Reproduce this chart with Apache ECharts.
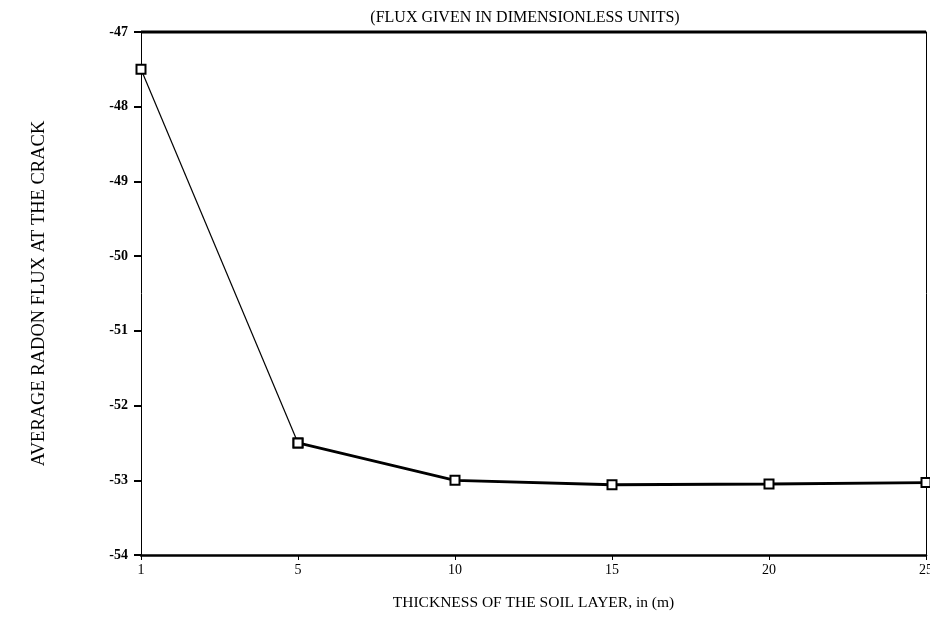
<!DOCTYPE html>
<html>
<head>
<meta charset="utf-8">
<script src="https://cdn.jsdelivr.net/npm/echarts@6/dist/echarts.min.js"></script>
<style>html,body{margin:0;padding:0;background:#fff}#c{width:930px;height:620px}</style>
</head>
<body>
<div id="c"></div>
<script>
const categories = ['1', '5', '10', '15', '20', '25'];
const fluxValues = [-47.5, -52.5, -53.0, -53.06, -53.05, -53.03];
const yTicks = [-54, -53, -52, -51, -50, -49, -48, -47];
const titleText = '(FLUX GIVEN IN DIMENSIONLESS UNITS)';
const xName = 'THICKNESS OF THE SOIL LAYER, in (m)';
const yName = 'AVERAGE RADON FLUX AT THE CRACK';

const thinPart = fluxValues.map((v, i) => i <= 1 ? v : null);
const thickPart = fluxValues.map((v, i) => i >= 1 ? v : null);
const font = '"Liberation Serif", "DejaVu Serif", serif';

const chart = echarts.init(document.getElementById('c'), null, {renderer: 'canvas'});
chart.setOption({
  animation: false,
  backgroundColor: '#fff',
  title: {
    text: titleText, left: 520, top: 5, textAlign: 'center',
    textStyle: {fontFamily: font, fontSize: 16, fontWeight: 'normal', color: '#000'}
  },
  grid: {left: 141, right: 4, top: 32, bottom: 65, show: false, outerBoundsMode: 'none', containLabel: false},
  xAxis: {
    type: 'category', data: categories, boundaryGap: false,
    name: xName, nameLocation: 'middle', nameGap: 40,
    nameTextStyle: {fontFamily: font, fontSize: 15.5, color: '#000'},
    axisLine: {lineStyle: {color: '#000', width: 2.5}},
    axisTick: {show: true, inside: false, length: 5, alignWithLabel: true, lineStyle: {color: '#000', width: 1}},
    axisLabel: {fontFamily: font, fontSize: 14, color: '#000', margin: 8},
    splitLine: {show: false}
  },
  yAxis: [{
    type: 'value', min: -54, max: -47, interval: 1,
    name: yName, nameLocation: 'middle', nameGap: 92, nameRotate: 90,
    nameTextStyle: {fontFamily: font, fontSize: 18.5, color: '#000'},
    axisLine: {show: true, lineStyle: {color: '#000', width: 1}},
    axisTick: {show: true, length: 7, lineStyle: {color: '#000', width: 2}},
    axisLabel: {fontFamily: font, fontSize: 14, fontWeight: 'bold', color: '#000', margin: 13,
      formatter: v => yTicks.includes(v) ? String(v) : ''},
    splitLine: {show: false}
  }, {
    type: 'value', min: -54, max: -47, interval: 1, position: 'right',
    axisLine: {show: true, lineStyle: {color: '#000', width: 1}},
    axisTick: {show: false}, axisLabel: {show: false}, splitLine: {show: false}
  }],
  graphic: [{
    type: 'line', shape: {x1: 141, y1: 32, x2: 926, y2: 32},
    style: {stroke: '#000', lineWidth: 3}
  }],
  series: [{
    type: 'line', data: thinPart, connectNulls: false,
    lineStyle: {color: '#000', width: 1.2},
    symbol: 'rect', symbolSize: 9,
    itemStyle: {color: '#fff', borderColor: '#000', borderWidth: 2}
  }, {
    type: 'line', data: thickPart, connectNulls: false,
    lineStyle: {color: '#000', width: 2.8},
    symbol: 'rect', symbolSize: 9,
    itemStyle: {color: '#fff', borderColor: '#000', borderWidth: 2},
    z: 3
  }]
});
</script>
</body>
</html>
